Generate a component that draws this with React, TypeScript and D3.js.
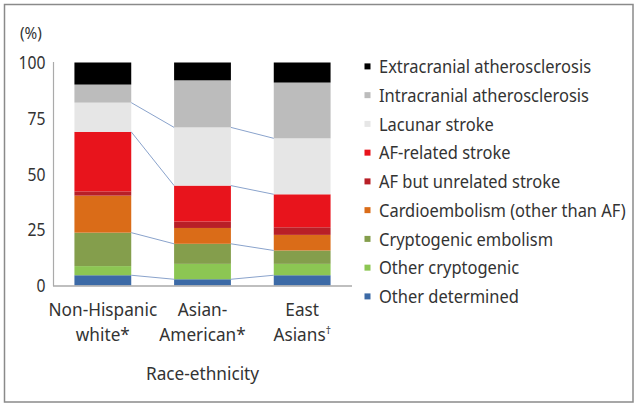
import React from "react";
import * as d3 from "d3";

const categories = ["Non-Hispanic white*", "Asian-American*", "East Asians†"];
const seriesNames = [
  "Other determined",
  "Other cryptogenic",
  "Cryptogenic embolism",
  "Cardioembolism (other than AF)",
  "AF but unrelated stroke",
  "AF-related stroke",
  "Lacunar stroke",
  "Intracranial atherosclerosis",
  "Extracranial atherosclerosis",
];
const seriesColors = [
  "#3c6aa6",
  "#8cc653",
  "#849e4c",
  "#da6c18",
  "#b81f27",
  "#e8141c",
  "#e6e6e6",
  "#bcbcbc",
  "#000000",
];
// values per series, per category (Non-Hispanic white, Asian-American, East Asians)
const otherDetermined = [4.6, 2.8, 4.6];
const otherCryptogenic = [4.1, 6.9, 5.1];
const cryptogenicEmbolism = [15.0, 9.0, 6.0];
const cardioembolism = [16.6, 7.1, 7.0];
const afUnrelated = [1.9, 2.9, 3.4];
const afRelated = [26.7, 16.1, 14.8];
const lacunar = [13.1, 26.1, 25.1];
const intracranial = [8.1, 21.1, 25.0];
const extracranial = [9.9, 8.0, 9.0];
const seriesValues = [
  otherDetermined,
  otherCryptogenic,
  cryptogenicEmbolism,
  cardioembolism,
  afUnrelated,
  afRelated,
  lacunar,
  intracranial,
  extracranial,
];
const yTicks = [0, 25, 50, 75, 100];
// series index whose top boundary is connected across bars
const connectedSeries = [0, 2, 5, 6];

const W = 638;
const H = 407;
const FONT = "'Noto Sans', sans-serif";
const FS = 18.5;

function T(props: { x: number; y: number; sx: number; anchor?: string; dy?: string; size?: number; children: any }) {
  return (
    <text
      transform={`translate(${props.x},${props.y}) scale(${props.sx},1)`}
      textAnchor={props.anchor || "start"}
      dy={props.dy}
      fontSize={props.size || FS}
      fill="#333"
    >
      {props.children}
    </text>
  );
}

export default function App() {
  const x = d3.scaleBand<string>().domain(categories).range([53, 352]).paddingInner(0.43).paddingOuter(0.215);
  const y = d3.scaleLinear().domain([0, 100]).range([285.5, 62.5]);

  const table = categories.map((c, i) => {
    const row: any = { cat: c };
    seriesNames.forEach((s, k) => (row[s] = seriesValues[k][i]));
    return row;
  });
  const stacked = d3.stack<any>().keys(seriesNames)(table);

  const bw = x.bandwidth();
  const links: { x1: number; y1: number; x2: number; y2: number }[] = [];
  connectedSeries.forEach((k) => {
    for (let i = 0; i < categories.length - 1; i++) {
      links.push({
        x1: (x(categories[i]) as number) + bw,
        y1: y(stacked[k][i][1]),
        x2: x(categories[i + 1]) as number,
        y2: y(stacked[k][i + 1][1]),
      });
    }
  });

  const legendOrder = [...seriesNames.keys()].reverse();

  const catLines = [
    ["Non-Hispanic", "white*"],
    ["Asian-", "American*"],
    ["East", "Asians"],
  ];

  return (
    <svg width={W} height={H} style={{ position: "absolute", left: 0, top: 0 }} fontFamily={FONT}>
      <rect x={0} y={0} width={W} height={H} fill="#fff" />
      <rect x={4.5} y={4.5} width={628.5} height={397.5} fill="none" stroke="#8a8a8a" strokeWidth={1.5} />
      <T x={20} y={38.5} sx={0.9} size={17}>(%)</T>
      {yTicks.map((t) => (
        <T key={t} x={45.5} y={y(t)} sx={0.85} anchor="end" dy="0.36em">
          {t}
        </T>
      ))}
      {stacked.map((s, k) =>
        s.map((d, i) => (
          <rect
            key={k + "-" + i}
            x={x(categories[i])}
            y={y(d[1])}
            width={bw}
            height={y(d[0]) - y(d[1])}
            fill={seriesColors[k]}
          />
        ))
      )}
      {links.map((l, i) => (
        <line key={i} x1={l.x1} y1={l.y1} x2={l.x2} y2={l.y2} stroke="#8aa3cc" strokeWidth={1} />
      ))}
      <line x1={53.5} y1={62} x2={53.5} y2={286} stroke="#aaaaaa" strokeWidth={1.2} />
      <line x1={53} y1={286} x2={352} y2={286} stroke="#aaaaaa" strokeWidth={1.5} />
      {categories.map((c, i) => {
        const cx = (x(c) as number) + bw / 2;
        return (
          <g key={c}>
            <T x={cx} y={315.7} sx={0.93} anchor="middle">{catLines[i][0]}</T>
            <T x={cx} y={341.2} sx={0.93} anchor="middle">
              {catLines[i][1]}
              {i === 2 ? <tspan fontSize={11} dy={-7}>†</tspan> : null}
            </T>
          </g>
        );
      })}
      <T x={202.5} y={380} sx={0.93} anchor="middle">Race-ethnicity</T>
      {legendOrder.map((k, j) => {
        const cy = 66.4 + j * 28.75;
        return (
          <g key={k}>
            <rect x={364.5} y={cy - 3} width={6} height={6} fill={seriesColors[k]} />
            <T x={379} y={cy} sx={0.89} dy="0.36em">
              {seriesNames[k]}
            </T>
          </g>
        );
      })}
    </svg>
  );
}
